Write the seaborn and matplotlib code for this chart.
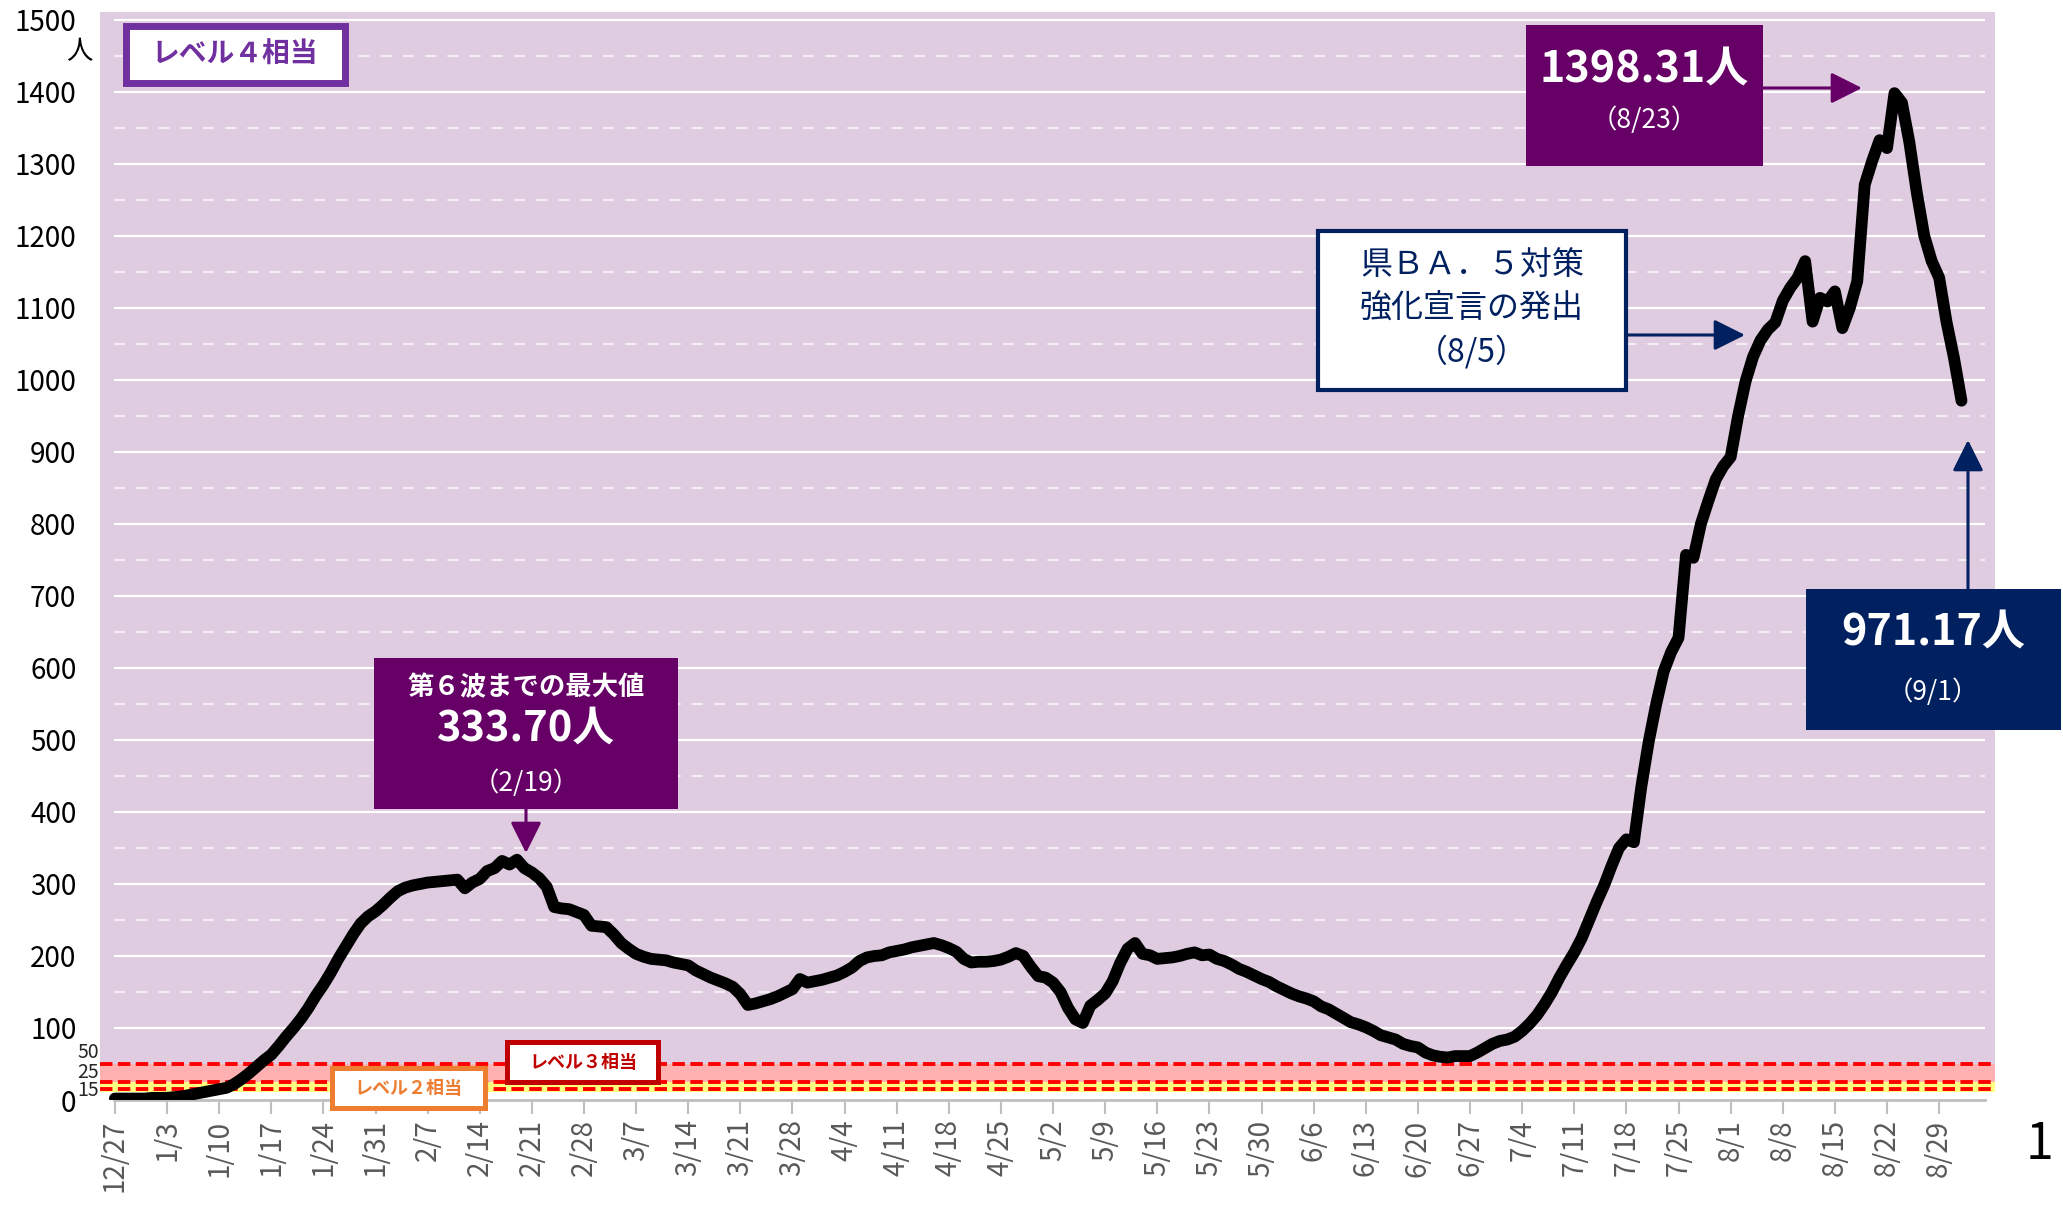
import pandas as pd
import seaborn as sns
import matplotlib.pyplot as plt
import matplotlib.dates as mdates
from matplotlib.patches import Rectangle, FancyArrowPatch

sns.set_style("white")
plt.rcParams['font.family'] = ['Noto Sans CJK JP', 'DejaVu Sans']

# new cases per 100k (7-day), one value per day starting 12/27
start_date = "2021-12-27"
cases = [
    2, 2, 2, 2, 2, 3, 3,
    3, 4, 5, 7, 9, 11, 13,
    15, 17, 22, 29, 37, 46, 55,
    63, 75, 88, 100, 113, 128, 145,
    160, 177, 196, 213, 230, 245, 255,
    262, 271, 281, 290, 295, 298, 300,
    302, 303, 304, 305, 306, 294, 302,
    307, 318, 322, 332, 327, 333.70, 322,
    316, 308, 296, 268, 266, 265, 261,
    257, 242, 241, 240, 230, 218, 210,
    203, 199, 196, 195, 194, 191, 189,
    187, 180, 175, 170, 166, 162, 157,
    147, 132, 134, 137, 140, 144, 149,
    154, 168, 163, 165, 167, 170, 173,
    178, 184, 193, 198, 200, 201, 205,
    207, 209, 212, 214, 216, 218, 215,
    211, 206, 196, 191, 192, 192, 193,
    195, 199, 204, 200, 185, 172, 170,
    163, 150, 128, 112, 107, 131, 139,
    148, 165, 190, 210, 218, 203, 201,
    196, 197, 198, 200, 203, 205, 201,
    202, 196, 193, 188, 182, 178, 173,
    168, 164, 158, 153, 148, 144, 141,
    137, 130, 126, 120, 114, 108, 105,
    101, 96, 90, 87, 84, 78, 75,
    73, 66, 62, 60, 59, 61, 61,
    61, 66, 72, 78, 82, 84, 88,
    96, 106, 118, 133, 150, 170, 188,
    205, 225, 250, 275, 298, 325, 350,
    362, 358, 435, 498, 550, 595, 622,
    642, 757, 753, 800, 832, 862, 880,
    893, 950, 998, 1032, 1055, 1070, 1080,
    1110, 1128, 1142, 1165, 1081, 1114, 1109,
    1123, 1072, 1100, 1137, 1271, 1304, 1333,
    1322, 1398.31, 1385, 1330, 1260, 1200, 1165,
    1142, 1080, 1030, 971.17,
]

tick_labels = ["12/27", "1/3", "1/10", "1/17", "1/24", "1/31", "2/7", "2/14",
               "2/21", "2/28", "3/7", "3/14", "3/21", "3/28", "4/4", "4/11",
               "4/18", "4/25", "5/2", "5/9", "5/16", "5/23", "5/30", "6/6",
               "6/13", "6/20", "6/27", "7/4", "7/11", "7/18", "7/25", "8/1",
               "8/8", "8/15", "8/22", "8/29"]
y_ticks = list(range(0, 1600, 100))
level_values = [50, 25, 15]

W, H = 2063, 1205


def fx(x):
    return x / W


def fy(y):
    return 1 - y / H


def box(x0, y0, x1, y1, face, edge=None, lw=0):
    fig.add_artist(Rectangle((fx(x0), fy(y1)), (x1 - x0) / W, (y1 - y0) / H,
                             transform=fig.transFigure, facecolor=face,
                             edgecolor=edge if edge else face, linewidth=lw, zorder=5))


def arrow(x0, y0, x1, y1, color):
    fig.add_artist(FancyArrowPatch((fx(x0), fy(y0)), (fx(x1), fy(y1)),
                                   transform=fig.transFigure, color=color, lw=2.2,
                                   arrowstyle="-|>,head_length=1.0,head_width=0.5",
                                   mutation_scale=19, shrinkA=0, shrinkB=0, zorder=6))


def label(x, y, s, size, color="white", weight="normal"):
    fig.text(fx(x), fy(y), s, fontsize=size, color=color, weight=weight,
             ha="center", va="center", zorder=7)


dates = pd.date_range(start_date, periods=len(cases))
df = pd.DataFrame({"date": dates, "cases": cases})
d0 = mdates.date2num(dates[0])

fig = plt.figure(figsize=(W / 100, H / 100), dpi=100)
ax = fig.add_axes([fx(100), fy(1100), 1895 / W, 1088 / H])
ax.set_facecolor("#DFCCE0")
ax.set_xlim(d0 - 2.0, d0 + 252.5)
ax.set_ylim(0, 1511)

# level bands
ax.axhspan(0, 11, color="white", lw=0, zorder=1)
ax.axhspan(11, 25, color="#FFFF80", lw=0, zorder=1)
ax.axhspan(25, 50, color="#FFB0B0", lw=0, zorder=1)

# grid
g0, g1 = d0 - 0.1, d0 + 251.2
ax.hlines(y_ticks[1:], g0, g1, color="white", lw=1.6, zorder=2)
ax.hlines([v + 50 for v in y_ticks[1:-1]], g0, g1, color="#F4EEF4", lw=1.6,
          linestyles=(0, (5, 5)), zorder=2)
for v in level_values:
    ax.axhline(v, color="#FF0000", lw=2.8, dashes=(3.2, 1.4), zorder=3)

sns.lineplot(data=df, x="date", y="cases", ax=ax, color="black", linewidth=8.5,
             solid_joinstyle="round", solid_capstyle="round", zorder=4)

for s in ["top", "right", "left"]:
    ax.spines[s].set_visible(False)
ax.spines["bottom"].set_color("#BFBFBF")
ax.spines["bottom"].set_linewidth(2)
ax.spines["bottom"].set_bounds(g0, g1)

ax.set_xticks(dates[::7])
ax.set_xticklabels(tick_labels, rotation=90, color="#595959", fontsize=20)
ax.tick_params(axis="x", bottom=True, length=10, width=1.5, color="#BFBFBF", pad=4)
ax.set_yticks(y_ticks)
ax.set_yticklabels([str(v) for v in y_ticks], fontsize=20, color="black")
ax.tick_params(axis="y", left=False, length=0, pad=17)
ax.set_xlabel("")
ax.set_ylabel("")

# small level labels and unit
for s, y in zip(["50", "25", "15"], [1053, 1072, 1090]):
    fig.text(fx(88), fy(y), s, fontsize=14, ha="center", va="center")
label(79, 52, "人", 19, color="black")

# level boxes
box(125.5, 26.5, 344.5, 82.5, "white", "#7030A0", 5)
label(235, 55, "レベル４相当", 20, "#7030A0", "bold")
box(507, 1042, 658, 1082, "white", "#C00000", 3.6)
label(583, 1062, "レベル３相当", 13, "#C00000", "bold")
box(332, 1068, 485, 1108, "white", "#ED7D31", 3.6)
label(408, 1089, "レベル２相当", 13, "#ED7D31", "bold")

# sixth wave max
box(374, 658, 678, 809, "#660066")
label(526, 688, "第６波までの最大値", 19, weight="bold")
label(526, 729, "333.70人", 30, weight="bold")
label(526, 783, "（2/19）", 19)
arrow(526, 809, 526, 853, "#660066")

# peak
box(1526, 25, 1763, 166, "#660066")
label(1644, 70, "1398.31人", 31, weight="bold")
label(1644, 120, "（8/23）", 19)
arrow(1763, 88, 1862, 88, "#660066")

# BA.5 declaration
box(1318, 231, 1626, 390, "white", "#002060", 3)
label(1472, 265, "県ＢＡ．５対策", 23, "#002060")
label(1472, 308, "強化宣言の発出", 23, "#002060")
label(1472, 352, "（8/5）", 23, "#002060")
arrow(1628, 335, 1745, 335, "#002060")

# latest
box(1806, 589, 2061, 730, "#002060")
label(1933, 633, "971.17人", 31, weight="bold")
label(1933, 692, "（9/1）", 19)
arrow(1968, 589, 1968, 440, "#002060")

label(2040, 1145, "1", 36, color="black")

fig.savefig("out.png", dpi=100)
